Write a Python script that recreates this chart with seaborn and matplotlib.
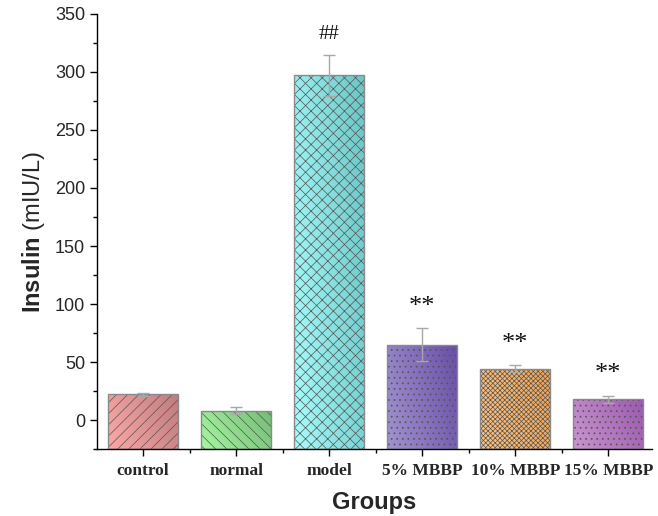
import numpy as np
import pandas as pd
import matplotlib
matplotlib.use("Agg")
import matplotlib.pyplot as plt
import seaborn as sns
from matplotlib.colors import LinearSegmentedColormap, to_rgba
from matplotlib.ticker import MultipleLocator, FixedLocator

# Serum insulin per group (mean and error)
groups = ["control", "normal", "model", "5% MBBP", "10% MBBP", "15% MBBP"]
insulin = [22, 8, 297, 65, 44, 18]
errors = [1, 3, 18, 14, 3, 3]
marks = ["", "", "##", "**", "**", "**"]

light = ["#FBA9A7", "#A6F7A0", "#A8FCFC", "#A193D0", "#FCC486", "#C995CF"]
dark = ["#C27C7E", "#76BC78", "#6CC6C6", "#6A4FA8", "#F2A452", "#9C5AAE"]
hatches = ["///", "\\\\\\", "xxx", "...", "xxxxxxx", "..."]

Y_MIN, Y_MAX = -25, 350

sns.set_theme(style="ticks")
plt.rcParams["font.family"] = ["Liberation Sans", "DejaVu Sans"]
plt.rcParams["hatch.linewidth"] = 0.5
plt.rcParams["mathtext.fontset"] = "custom"
plt.rcParams["mathtext.bf"] = "Liberation Sans:bold"
plt.rcParams["mathtext.rm"] = "Liberation Sans"

df = pd.DataFrame({"Group": groups, "Insulin": insulin})

fig = plt.figure(figsize=(6.58, 5.16), dpi=100)
ax = fig.add_axes([0.1474, 0.1298, 0.8436, 0.8431])

sns.barplot(data=df, x="Group", y="Insulin", hue="Group", palette=light,
            width=0.75, errorbar=None, legend=False, ax=ax,
            edgecolor="#8a8a8a", linewidth=1.0, zorder=2)

# Bars rise from the bottom of the axis; colour gradient inside, hatch on top
ny, nx = 64, 64
gx, gy = np.meshgrid(np.linspace(0, 1, nx), np.linspace(0, 1, ny))
ramp = 0.75 * gx + 0.25 * gy
for patch, c0, c1, h in zip(ax.patches, light, dark, hatches):
    top = patch.get_y() + patch.get_height()
    patch.set_y(Y_MIN)
    patch.set_height(top - Y_MIN)
    x0, w = patch.get_x(), patch.get_width()
    cmap = LinearSegmentedColormap.from_list("g", [c0, c1])
    im = ax.imshow(ramp, cmap=cmap, origin="lower", aspect="auto",
                   extent=[x0, x0 + w, Y_MIN, top], zorder=1.5,
                   interpolation="bilinear")
    im.set_clip_path(patch)
    patch.set_facecolor("none")
    patch.set_hatch(h)
    if hasattr(patch, "set_hatchcolor"):
        patch.set_hatchcolor("#555555")
    else:
        patch._hatch_color = to_rgba("#555555")

ax.errorbar(range(len(groups)), insulin, yerr=errors, fmt="none",
            ecolor="#a8a8a8", elinewidth=1.0, capsize=4, capthick=1.0, zorder=3)

for i, (v, e, m) in enumerate(zip(insulin, errors, marks)):
    if m:
        ax.text(i, v + e + 9, m, ha="center", va="bottom",
                fontsize=15 if m == "##" else 19,
                family="Liberation Serif", color="#111111")

ax.set_ylim(Y_MIN, Y_MAX)
ax.set_xlim(-0.495, 5.47)
ax.yaxis.set_major_locator(MultipleLocator(50))
ax.yaxis.set_minor_locator(MultipleLocator(25))
ax.xaxis.set_minor_locator(FixedLocator([0.5, 1.5, 2.5, 3.5, 4.5]))
ax.tick_params(axis="both", which="major", direction="out", length=5, width=1, color="black")
ax.tick_params(axis="both", which="minor", direction="out", length=3, width=1, color="black")
ax.tick_params(axis="y", labelsize=13)
ax.tick_params(axis="x", pad=5)
for lab in ax.get_xticklabels():
    lab.set_fontfamily("Liberation Serif")
    lab.set_fontweight("bold")
    lab.set_fontsize(12.5)

for side in ("top", "right"):
    ax.spines[side].set_visible(False)
for side in ("left", "bottom"):
    ax.spines[side].set_color("black")
    ax.spines[side].set_linewidth(1)

ax.set_ylabel(r"$\bf{Insulin}$ (mIU/L)", fontsize=17, labelpad=6)
ax.set_xlabel("Groups", fontsize=17, fontweight="bold", labelpad=9)

fig.savefig("out.png", dpi=100)
